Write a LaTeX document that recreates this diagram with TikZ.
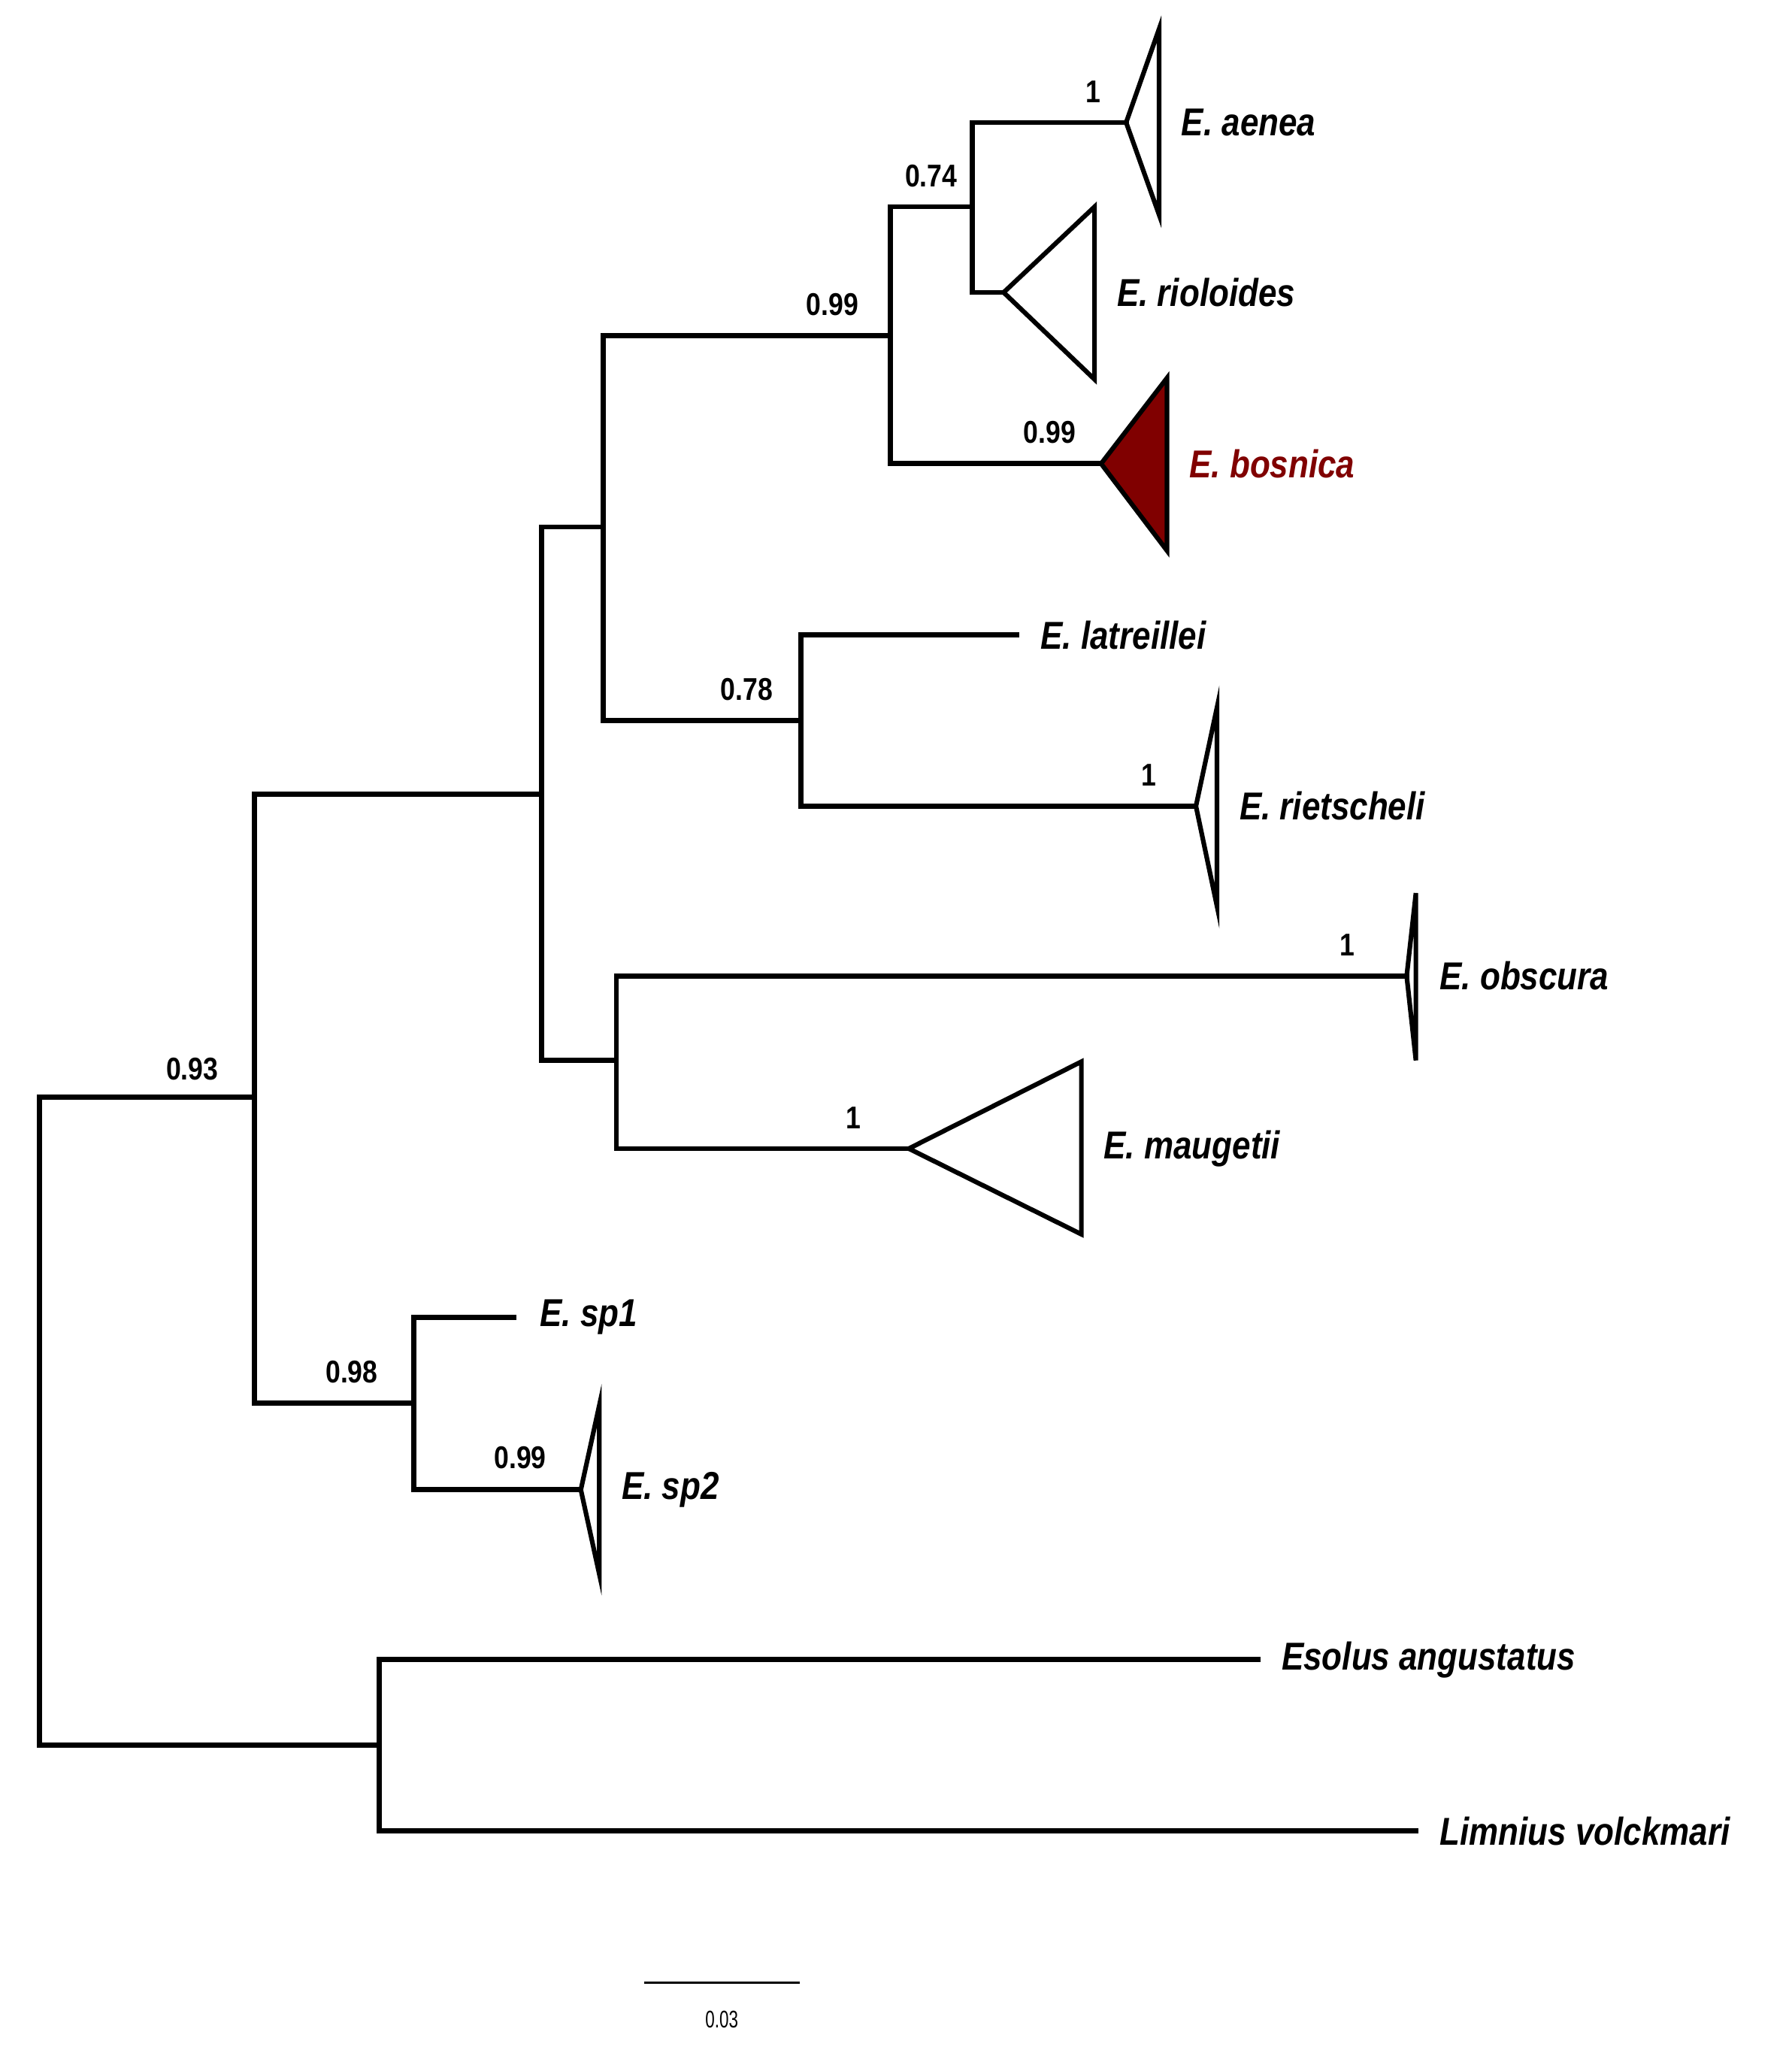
\documentclass[tikz,border=0pt]{standalone}
\usepackage{fontspec}
\setmainfont{Liberation Sans}
\begin{document}
\begin{tikzpicture}[x=0.05cm,y=-0.05cm,
  br/.style={line width=5.5pt,line cap=rect},
  tri/.style={line width=5pt,line join=miter},
  tax/.style={anchor=west,font=\fontsize{42}{50}\selectfont\bfseries\itshape,xscale=0.85,transform shape,inner sep=0},
  sup/.style={anchor=south,font=\fontsize{34}{40}\selectfont\bfseries,xscale=0.85,transform shape,inner sep=0}]
\useasboundingbox (0,0) rectangle (1360,1570);
\definecolor{bred}{RGB}{128,0,0}
% backbone
\draw[br] (193,833) -- (30,833) -- (30,1325) -- (288,1325);
\draw[br] (411,603) -- (193,603) -- (193,1065) -- (314,1065);
\draw[br] (458,400) -- (411,400) -- (411,805) -- (468,805);
\draw[br] (676,255) -- (458,255) -- (458,547) -- (608,547);
\draw[br] (738,157) -- (676,157) -- (676,352) -- (836,352);
\draw[br] (855,93) -- (738,93) -- (738,222) -- (762,222);
\draw[br] (772,482) -- (608,482) -- (608,612) -- (908,612);
\draw[br] (1068,741) -- (468,741) -- (468,872) -- (690,872);
\draw[br] (390,1000) -- (314,1000) -- (314,1131) -- (441,1131);
\draw[br] (955,1260) -- (288,1260) -- (288,1390) -- (1075,1390);
% triangles
\draw[tri] (855,93) -- (880,22) -- (880,163) -- cycle;
\draw[tri] (762,222) -- (831,157) -- (831,288) -- cycle;
\draw[tri,fill=bred] (836,352) -- (886,287) -- (886,418) -- cycle;
\draw[tri] (908,612) -- (924,537) -- (924,688) -- cycle;
\draw[tri] (1068,741) -- (1075,678) -- (1075,805) -- cycle;
\draw[tri] (690,872) -- (821,806) -- (821,937) -- cycle;
\draw[tri] (441,1131) -- (455,1067) -- (455,1195) -- cycle;
% taxa
\node[tax] (t1) at (897,93) {E. aenea};
\node[tax] (t2) at (848,222) {E. rioloides};
\node[tax,text=bred] (t3) at (903,352) {E. bosnica};
\node[tax] (t4) at (790,482) {E. latreillei};
\node[tax] (t5) at (941,612) {E. rietscheli};
\node[tax] (t6) at (1093,741) {E. obscura};
\node[tax] (t7) at (838,872) {E. maugetii};
\node[tax] (t8) at (410,1000) {E. sp1};
\node[tax] (t9) at (472,1131) {E. sp2};
\node[tax] (t10) at (973,1260) {Esolus angustatus};
\node[tax] (t11) at (1093,1390) {Limnius volckmari};
% supports
\node[sup] (s1) at (146,820) {0.93};
\node[sup] (s2) at (632,240) {0.99};
\node[sup] (s3) at (707,142) {0.74};
\node[sup] (s4) at (830,78) {1};
\node[sup] (s5) at (797,337) {0.99};
\node[sup] (s6) at (567,532) {0.78};
\node[sup] (s7) at (872,597) {1};
\node[sup] (s8) at (1023,726) {1};
\node[sup] (s9) at (648,857) {1};
\node[sup] (s10) at (267,1050) {0.98};
\node[sup] (s11) at (395,1115) {0.99};
% scale bar
\draw[line width=2.5pt] (489,1505) -- (607,1505);
\node[font=\fontsize{26}{30}\selectfont,xscale=0.7,transform shape] (sc) at (548,1533) {0.03};
\end{tikzpicture}
\end{document}
